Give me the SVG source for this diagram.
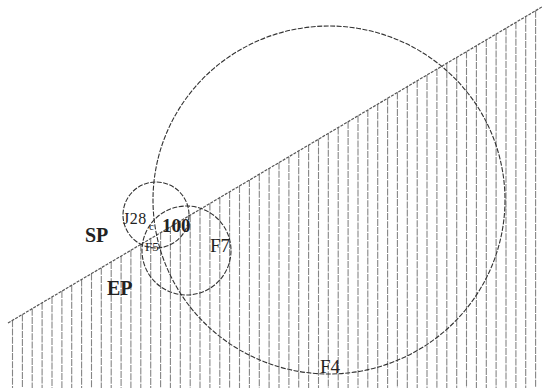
<svg xmlns="http://www.w3.org/2000/svg" width="542" height="388" viewBox="0 0 542 388">
<style>
.bg{fill:#ffffff}
.hatch{fill:none;stroke:#858585;stroke-width:1.1;stroke-dasharray:7 1.2}
.edge{fill:none;stroke:#555;stroke-width:1.2;stroke-dasharray:3 1.2}
.circ{fill:none;stroke:#333;stroke-width:1.1;stroke-dasharray:5 1.5}
.t{font-family:"Liberation Serif","Times New Roman",serif;fill:#222}
.b{font-weight:bold}
</style>
<rect class="bg" x="0" y="0" width="542" height="388"/>
<g id="ground">
<path class="hatch" d="M12.5 320.3V388M22.4 314.5V388M32.2 308.7V388M42.1 302.8V388M52 297V388M61.9 291.1V388M71.7 285.3V388M81.6 279.4V388M91.5 273.6V388M101.3 267.8V388M111.2 261.9V388M121.1 256.1V388M130.9 250.2V388M140.8 244.4V388M150.7 238.5V388M160.6 232.7V388M170.4 226.9V388M180.3 221V388M190.2 215.2V388M200 209.3V388M209.9 203.5V388M219.8 197.6V388M229.6 191.8V388M239.5 186V388M249.4 180.1V388M259.3 174.3V388M269.1 168.4V388M279 162.6V388M288.9 156.7V388M298.7 150.9V388M308.6 145.1V388M318.5 139.2V388M328.3 133.4V388M338.2 127.5V388M348.1 121.7V388M358 115.8V388M367.8 110V388M377.7 104.1V388M387.6 98.3V388M397.4 92.5V388M407.3 86.6V388M417.2 80.8V388M427 74.9V388M436.9 69.1V388M446.8 63.2V388M456.7 57.4V388M466.5 51.6V388M476.4 45.7V388M486.3 39.9V388M496.1 34V388M506 28.2V388M515.9 22.3V388M525.7 16.5V388M535.6 10.7V388"/>
<path class="edge" d="M8 323L542 6.9"/>
</g>
<g id="F4">
<ellipse class="circ" cx="329" cy="200" rx="176" ry="174"/>
<text class="t" x="320" y="373" font-size="19">F4</text>
</g>
<g id="J28">
<circle class="circ" cx="156" cy="215" r="33"/>
<text class="t" x="123" y="224" font-size="16" letter-spacing="0.5">J28</text>
</g>
<g id="F7">
<circle class="circ" cx="186.5" cy="250.5" r="44.5"/>
<text class="t" x="210" y="252" font-size="19">F7</text>
</g>
<g id="n100">
<text class="t b" x="162" y="232" font-size="19">100</text>
<text class="t" x="149" y="230" font-size="11">c</text>
<text class="t" x="145" y="251" font-size="13">F5</text>
</g>
<g id="SP">
<text class="t b" x="85" y="242" font-size="20">SP</text>
</g>
<g id="EP">
<text class="t b" x="107" y="295" font-size="20">EP</text>
</g>
</svg>
